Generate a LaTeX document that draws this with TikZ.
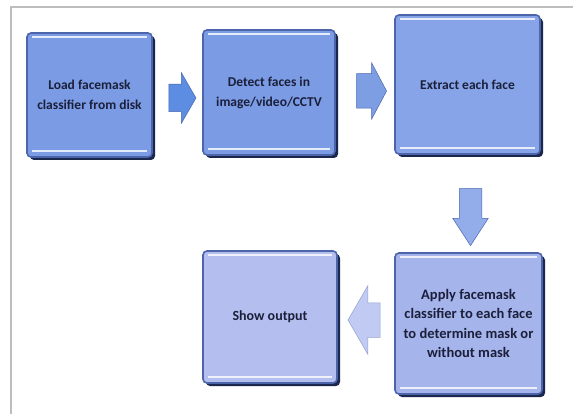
\documentclass[tikz,border=0pt]{standalone}
\usepackage{fontspec}
\setmainfont{Carlito}
\usetikzlibrary{shapes.arrows,shadows}
\definecolor{framegray}{HTML}{BDBDBD}
\definecolor{tiletop}{HTML}{7B9CE5}
\definecolor{tilelow}{HTML}{A6B4EC}
\definecolor{tilepale}{HTML}{B4BFEF}
\definecolor{tileline}{HTML}{4C64AA}
\definecolor{tileshade}{HTML}{1B274C}
\definecolor{tiletext}{HTML}{1B1F3A}
\definecolor{flowline}{HTML}{4A66AE}
\definecolor{flowA}{HTML}{5C8DE2}
\definecolor{flowB}{HTML}{7D9EE2}
\definecolor{flowC}{HTML}{93ACEA}
\definecolor{flowD}{HTML}{C0CAF2}
\begin{document}
\begin{tikzpicture}[x=1pt,y=-1pt,line width=.35pt,font=\bfseries,
  tile/.style={draw=tileline,line width=1.6pt,rounded corners=4pt,text=tiletext,align=center,inner sep=2pt,
    font=\fontsize{13.5}{20}\selectfont\bfseries,
    drop shadow={shadow xshift=3pt,shadow yshift=-3pt,fill=tileshade,opacity=1},
    path picture={
      \draw[white,opacity=.8,line width=1.3pt] ([xshift=5pt,yshift=-4pt]path picture bounding box.north west) -- ([xshift=-5pt,yshift=-4pt]path picture bounding box.north east);
      \draw[white,opacity=.8,line width=1.3pt] ([xshift=5pt,yshift=6pt]path picture bounding box.south west) -- ([xshift=-5pt,yshift=6pt]path picture bounding box.south east);
    }},
  flow/.style={single arrow,draw=flowline,line width=.5pt,inner xsep=0pt,single arrow head indent=0pt}]
\fill[white] (0,0) rectangle (573,414);
\useasboundingbox (0,0) rectangle (573,414);
\draw[framegray,line width=1.6pt] (11,414) -- (11,7) -- (573,7);
% boxes
\node[tile,fill=tiletop,minimum width=125pt,minimum height=124pt] (load) at (89.5,95) {Load facemask\\classifier from disk};
\node[tile,fill=tiletop,minimum width=132pt,minimum height=125pt] (detect) at (269,92.5) {Detect faces in\\image/video/CCTV};
\node[tile,fill=tiletop!92!white,minimum width=145pt,minimum height=139pt] (extract) at (467.5,84.5) {Extract each face};
\node[tile,fill=tilelow,minimum width=147pt,minimum height=141pt,font=\fontsize{14.5}{19.5}\selectfont\bfseries] (apply) at (468.5,323.5) {Apply facemask\\classifier to each face\\to determine mask or\\without mask};
\node[tile,fill=tilepale,minimum width=134pt,minimum height=132pt,font=\fontsize{14}{20}\selectfont\bfseries] (show) at (270,317) {Show output};
% arrows
\node[flow,fill=flowA,minimum height=27pt,inner ysep=13.5pt,single arrow head extend=11.5pt,single arrow tip angle=120] (arA) at (178.5,98) {};
\node[flow,fill=flowB,minimum height=30pt,inner ysep=17pt,single arrow head extend=11pt,single arrow tip angle=124] (arB) at (367,91) {};
\node[flow,fill=flowC,minimum height=57pt,inner ysep=0pt,inner xsep=11pt,single arrow head extend=6.5pt,single arrow tip angle=66,shape border rotate=270] (arC) at (470.5,208.5) {};
\node[flow,fill=flowD,draw=flowline!60,minimum height=32pt,inner ysep=17pt,single arrow head extend=17pt,single arrow tip angle=120,shape border rotate=180] (arD) at (369,320) {};
\end{tikzpicture}
\end{document}
